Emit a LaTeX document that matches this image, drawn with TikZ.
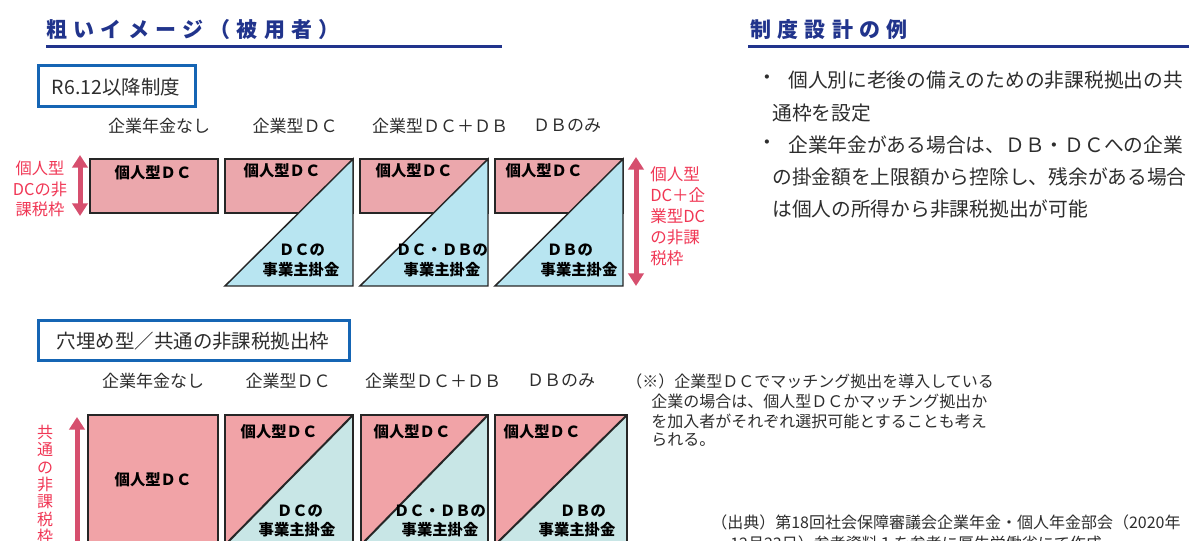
\documentclass[tikz,border=0pt]{standalone}
\usepackage{fontspec}
\setmainfont{Noto Sans CJK JP}
\usetikzlibrary{arrows.meta}
\definecolor{titleblue}{RGB}{33,52,140}
\definecolor{boxblue}{RGB}{21,101,180}
\definecolor{pinkA}{RGB}{235,167,172}
\definecolor{blueA}{RGB}{184,229,241}
\definecolor{pinkB}{RGB}{241,163,167}
\definecolor{tealB}{RGB}{200,230,230}
\definecolor{arrowc}{RGB}{214,79,110}
\definecolor{redtxt}{RGB}{240,55,85}
\definecolor{textc}{RGB}{45,45,45}
\newcommand{\pxf}[2]{\fontsize{#1pt}{#2pt}\selectfont}
\tikzset{
  txt/.style={inner sep=0pt, text=textc},
  ttl/.style={inner sep=0pt, anchor=west, text=titleblue, font=\bfseries\pxf{15.75}{18}\addfontfeature{LetterSpace=30}},
  hdr/.style={txt, font=\pxf{12.75}{15}},
  body/.style={txt, anchor=west, font=\pxf{14.8}{17}},
  note/.style={txt, anchor=west, font=\pxf{12}{14}},
  blk/.style={inner sep=0pt, text=black, font=\bfseries\pxf{11.5}{14}},
  side/.style={inner sep=0pt, text=redtxt, font=\pxf{12.2}{15.5}},
  frame/.style={draw=boxblue, line width=2.25pt},
  cell/.style={draw=black!85, line width=1.1pt},
  diag/.style={draw=black!85, line width=1.5pt},
  dbl/.style={arrowc, line width=3.75pt, {Triangle[width=11.5pt,length=9.5pt]}-{Triangle[width=11.5pt,length=9.5pt]}},
}
\begin{document}
\begin{tikzpicture}[x=0.75pt,y=-0.75pt]
\useasboundingbox (0,0) rectangle (1189,541);
\clip (0,0) rectangle (1189,541);

% titles
\node[ttl] (title1) at (46,30) {粗いイメージ（被用者）};
\draw[titleblue, line width=2.25pt] (46,47) -- (502,47);
\node[ttl] (title2) at (750,30) {制度設計の例};
\draw[titleblue, line width=2.25pt] (748,47) -- (1189,47);

% section boxes
\draw[frame] (38,66) rectangle (195,107);
\node[txt, font=\pxf{14.6}{17}] (sec1) at (116,87) {R6.12以降制度};
\draw[frame] (38,321) rectangle (349,361);
\node[txt, font=\pxf{14.6}{17}] (sec2) at (193,341) {穴埋め型／共通の非課税拠出枠};

% top headers
\node[hdr] (h1) at (159,126) {企業年金なし};
\node[hdr] (h2) at (295,126) {企業型ＤＣ};
\node[hdr] (h3) at (440,126) {企業型ＤＣ＋ＤＢ};
\node[hdr] (h4) at (567,126) {ＤＢのみ};

% top blocks
\fill[pinkA] (90,159) rectangle (218,213);
\draw[cell] (90,159) rectangle (218,213);
\foreach \x in {225,360,495}{
  \fill[pinkA] (\x,159) rectangle (\x+128,213);
  \draw[cell] (\x,159) rectangle (\x+128,213);
  \fill[blueA] (\x,286) -- (\x+128,159) -- (\x+128,286) -- cycle;
  \draw[cell] (\x,286) -- (\x+128,159) -- (\x+128,286) -- cycle;
}
\node[blk] (a1) at (153,173) {個人型ＤＣ};
\node[blk] (a2) at (282,171) {個人型ＤＣ};
\node[blk] (a3) at (414,171) {個人型ＤＣ};
\node[blk] (a4) at (544,171) {個人型ＤＣ};
\node[blk] (b2) at (302,250) {ＤＣの};
\node[blk] (c2) at (301,270) {事業主掛金};
\node[blk] (b3) at (442,250) {ＤＣ・ＤＢの};
\node[blk] (c3) at (442,270) {事業主掛金};
\node[blk] (b4) at (570,250) {ＤＢの};
\node[blk] (c4) at (579,270) {事業主掛金};

% top side labels and arrows
\node[side, align=center] (l1) at (40,189) {個人型\\DCの非\\課税枠};
\coordinate (ua1) at (80,155);
\coordinate (ub1) at (80,216);
\draw[dbl] (ua1) -- (ub1);
\coordinate (ua2) at (636,157);
\coordinate (ub2) at (636,286);
\draw[dbl] (ua2) -- (ub2);
\node[side, align=left, anchor=west, font=\pxf{12.4}{15.75}] (l2) at (650,216) {個人型\\DC＋企\\業型DC\\の非課\\税枠};

% right text
\node[body] (bl1) at (757,80) {・};
\node[body] (r1) at (788,80) {個人別に老後の備えのための非課税拠出の共};
\node[body] (r2) at (772,113) {通枠を設定};
\node[body] (bl2) at (757,145) {・};
\node[body] (r3) at (788,145) {企業年金がある場合は、ＤＢ・ＤＣへの企業};
\node[body] (r4) at (772,177) {の掛金額を上限額から控除し、残余がある場合};
\node[body] (r5) at (772,209) {は個人の所得から非課税拠出が可能};

% bottom headers
\node[hdr] (k1) at (153,381) {企業年金なし};
\node[hdr] (k2) at (288,381) {企業型ＤＣ};
\node[hdr] (k3) at (433,381) {企業型ＤＣ＋ＤＢ};
\node[hdr] (k4) at (561,381) {ＤＢのみ};

% bottom blocks
\fill[pinkB] (88,415) rectangle (218,545);
\draw[cell] (88,415) rectangle (218,545);
\foreach \x/\w in {225/128,361/127,495/132}{
  \fill[pinkB] (\x,415) rectangle (\x+\w,545);
  \fill[tealB] (\x,545) -- (\x+\w,415) -- (\x+\w,545) -- cycle;
  \draw[diag] (\x,545) -- (\x+\w,415);
  \draw[cell] (\x,415) rectangle (\x+\w,545);
}
\node[blk] (d1) at (153,480) {個人型ＤＣ};
\node[blk] (d2) at (279,432) {個人型ＤＣ};
\node[blk] (d3) at (412,432) {個人型ＤＣ};
\node[blk] (d4) at (542,432) {個人型ＤＣ};
\node[blk] (e2) at (300,511) {ＤＣの};
\node[blk] (f2) at (297,530) {事業主掛金};
\node[blk] (e3) at (440,511) {ＤＣ・ＤＢの};
\node[blk] (f3) at (440,530) {事業主掛金};
\node[blk] (e4) at (583,511) {ＤＢの};
\node[blk] (f4) at (577,530) {事業主掛金};

% bottom side label and arrow
\node[side, align=center, font=\pxf{12}{13.1}] (l3) at (45,484.5) {共\\通\\の\\非\\課\\税\\枠};
\coordinate (ua3) at (77,417);
\coordinate (ub3) at (77,600);
\draw[dbl] (ua3) -- (ub3);

% note
\node[note] (n1) at (626,381) {（※）企業型ＤＣでマッチング拠出を導入している};
\node[note] (n2) at (651,401) {企業の場合は、個人型ＤＣかマッチング拠出か};
\node[note] (n3) at (651,421) {を加入者がそれぞれ選択可能とすることも考え};
\node[note] (n4) at (651,440) {られる。};

% source
\node[note] (s1) at (711,522) {（出典）第18回社会保障審議会企業年金・個人年金部会（2020年};
\node[note] (s2) at (730,543) {12月23日）参考資料１を参考に厚生労働省にて作成};
\end{tikzpicture}
\end{document}
